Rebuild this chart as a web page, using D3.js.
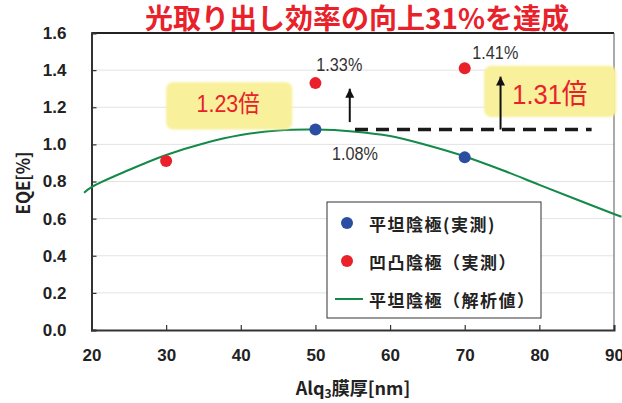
<!DOCTYPE html>
<html>
<head>
<meta charset="utf-8">
<script src="https://cdn.jsdelivr.net/npm/d3@7"></script>
<style>
body { margin: 0; background: #fff; }
text { font-family: "Liberation Sans", Arial, "Noto Sans CJK JP", sans-serif; }
.cjk { font-family: "Noto Sans CJK JP", sans-serif; }
.narrow { font-family: "Liberation Sans", Arial, "Noto Sans CJK JP", sans-serif; }
</style>
</head>
<body>
<div id="chart"></div>
<script>
// measured points
const flatX = [50, 70];
const flatY = [1.08, 0.93];
const bumpX = [30, 50, 70];
const bumpY = [0.91, 1.33, 1.41];
// simulated curve (flat cathode)
const simX = [19, 20, 25, 30, 35, 40, 45, 50, 55, 60, 65, 70, 75, 80, 85, 90, 91];
const simY = [0.74, 0.77, 0.862, 0.943, 1.005, 1.05, 1.075, 1.08, 1.07, 1.045, 0.995, 0.935, 0.862, 0.782, 0.703, 0.625, 0.61];

const xTicks = [20, 30, 40, 50, 60, 70, 80, 90];
const yTicks = [0, 0.2, 0.4, 0.6, 0.8, 1.0, 1.2, 1.4, 1.6];

const legendNames = ["平坦陰極(実測)", "凹凸陰極（実測）", "平坦陰極（解析値）"];
const valueLabels = ["1.33%", "1.41%", "1.08%"];
const labelX = [53.2, 74.1, 55.3];
const labelY = [1.428, 1.492, 0.95];
const ratioLabels = ["1.23倍", "1.31倍"];

const W = 622, H = 403;
const svg = d3.select("#chart").append("svg").attr("width", W).attr("height", H);

const x = d3.scaleLinear().domain([20, 90]).range([91.5, 614]);
const y = d3.scaleLinear().domain([0, 1.6]).range([330, 33]);

const red = "#e8212a", blue = "#2b4ea2", green = "#13894a";

// title
svg.append("text").attr("class", "cjk")
  .attr("x", 357).attr("y", 29)
  .attr("text-anchor", "middle")
  .attr("font-size", 28).attr("font-weight", 700)
  .attr("fill", red)
  .text("光取り出し効率の向上31%を達成");

// gridlines
svg.append("g").selectAll("line")
  .data(yTicks.filter(d => d > 0 && d < 1.6))
  .join("line")
  .attr("x1", x(20)).attr("x2", x(90))
  .attr("y1", d => y(d)).attr("y2", d => y(d))
  .attr("stroke", "#e3e3e3").attr("stroke-width", 1);

// frame top / right
svg.append("line").attr("x1", x(20)).attr("x2", x(90)).attr("y1", y(1.6)).attr("y2", y(1.6))
  .attr("stroke", "#222").attr("stroke-width", 2);
svg.append("line").attr("x1", x(90)).attr("x2", x(90)).attr("y1", y(1.6)).attr("y2", y(0))
  .attr("stroke", "#555").attr("stroke-width", 1);

// axes
const yAxis = svg.append("g").attr("transform", `translate(${x(20)},0)`)
  .call(d3.axisLeft(y).tickValues(yTicks).tickFormat(d3.format(".1f")).tickSize(-5).tickPadding(25));
const xAxis = svg.append("g").attr("transform", `translate(0,${y(0)})`)
  .call(d3.axisBottom(x).tickValues(xTicks).tickSize(-5).tickPadding(19));
[xAxis, yAxis].forEach(g => {
  g.select(".domain").attr("stroke", "#333").attr("stroke-width", 2);
  g.selectAll(".tick line").attr("stroke", "#333").attr("stroke-width", 1.2);
  g.selectAll(".tick text").attr("font-size", 17).attr("font-weight", 700).attr("fill", "#222")
    .attr("font-family", "'Liberation Sans', Arial, sans-serif");
});

// axis titles
svg.append("text").attr("class", "cjk")
  .attr("transform", "translate(22,183) rotate(-90)")
  .attr("text-anchor", "middle").attr("dominant-baseline", "central")
  .attr("font-size", 18).attr("font-weight", 700).attr("fill", "#222")
  .attr("textLength", 63).attr("lengthAdjust", "spacingAndGlyphs")
  .text("EQE[%]");
const xt = svg.append("text").attr("class", "cjk")
  .attr("x", 353).attr("y", 395).attr("text-anchor", "middle")
  .attr("font-size", 18).attr("font-weight", 700).attr("fill", "#222");
xt.append("tspan").text("Alq");
xt.append("tspan").attr("font-size", 12).attr("dy", 3).text("3");
xt.append("tspan").attr("dy", -3).text("膜厚[nm]");

// simulated curve
const line = d3.line().x((d, i) => x(simX[i])).y(d => y(d)).curve(d3.curveCatmullRom);
svg.append("path").datum(simY)
  .attr("d", line)
  .attr("fill", "none").attr("stroke", green).attr("stroke-width", 2);

// yellow ratio boxes
const boxes = [
  {x0: 30, x1: 46.9, y0: 1.335, y1: 1.08, tx: 38.3, ty: 1.218, fs: 24, len: 63},
  {x0: 72.6, x1: 90.3, y0: 1.423, y1: 1.147, tx: 81.4, ty: 1.267, fs: 28, len: 75}
];
const defs = svg.append("defs");
defs.append("filter").attr("id", "soft").append("feGaussianBlur").attr("stdDeviation", 0.8);
boxes.forEach(b => {
  svg.append("rect")
    .attr("x", x(b.x0)).attr("y", y(b.y0))
    .attr("width", x(b.x1) - x(b.x0)).attr("height", y(b.y1) - y(b.y0))
    .attr("rx", 7).attr("fill", "#f8f09a").attr("filter", "url(#soft)");
});

// dashed reference line and arrows
defs.append("marker").attr("id", "head")
  .attr("viewBox", "0 0 10 10").attr("refX", 10).attr("refY", 5)
  .attr("markerWidth", 4.5).attr("markerHeight", 4.5).attr("orient", "auto")
  .append("path").attr("d", "M0,0L10,5L0,10Z").attr("fill", "#111");

svg.append("line")
  .attr("x1", x(55.3)).attr("x2", x(87.0))
  .attr("y1", y(flatY[0])).attr("y2", y(flatY[0]))
  .attr("stroke", "#1a1a1a").attr("stroke-width", 3.5).attr("stroke-dasharray", "13,8");

const arrowX = [54.6, 74.8];
const arrowFrom = [1.12, 1.08];
const arrowTo = [1.30, 1.365];
arrowX.forEach((ax, i) => {
  svg.append("line")
    .attr("x1", x(ax)).attr("x2", x(ax))
    .attr("y1", y(arrowFrom[i])).attr("y2", y(arrowTo[i]))
    .attr("stroke", "#111").attr("stroke-width", 2)
    .attr("marker-end", "url(#head)");
});

boxes.forEach((b, i) => {
  svg.append("text").attr("class", "narrow")
    .attr("x", x(b.tx)).attr("y", y(b.ty))
    .attr("text-anchor", "middle").attr("dominant-baseline", "central")
    .attr("font-size", b.fs).attr("fill", red)
    .attr("textLength", b.len).attr("lengthAdjust", "spacingAndGlyphs")
    .text(ratioLabels[i]);
});

// value labels
svg.append("g").selectAll("text")
  .data(valueLabels)
  .join("text").attr("class", "narrow")
  .attr("x", (d, i) => x(labelX[i])).attr("y", (d, i) => y(labelY[i]))
  .attr("text-anchor", "middle").attr("dominant-baseline", "central")
  .attr("font-size", 18).attr("fill", "#333")
  .attr("textLength", 46).attr("lengthAdjust", "spacingAndGlyphs")
  .text(d => d);

// measured dots
svg.append("g").selectAll("circle")
  .data(flatY).join("circle")
  .attr("cx", (d, i) => x(flatX[i])).attr("cy", d => y(d))
  .attr("r", 6).attr("fill", blue);
svg.append("g").selectAll("circle")
  .data(bumpY).join("circle")
  .attr("cx", (d, i) => x(bumpX[i])).attr("cy", d => y(d))
  .attr("r", 6).attr("fill", red);

// legend
const lg = svg.append("g").attr("transform", "translate(327,202)");
lg.append("rect").attr("width", 214).attr("height", 116)
  .attr("fill", "#fff").attr("stroke", "#333").attr("stroke-width", 1);
const rows = [21, 59, 97];
lg.append("circle").attr("cx", 20).attr("cy", rows[0]).attr("r", 6).attr("fill", blue);
lg.append("circle").attr("cx", 20).attr("cy", rows[1]).attr("r", 6).attr("fill", red);
lg.append("line").attr("x1", 8).attr("x2", 36).attr("y1", rows[2]).attr("y2", rows[2])
  .attr("stroke", green).attr("stroke-width", 2);
lg.selectAll("text.lab").data(legendNames).join("text")
  .attr("class", "lab cjk")
  .attr("x", 42).attr("y", (d, i) => rows[i])
  .attr("dominant-baseline", "central")
  .attr("font-size", 17).attr("font-weight", 700).attr("fill", "#222")
  .attr("letter-spacing", 1.5)
  .text(d => d);
</script>
</body>
</html>
